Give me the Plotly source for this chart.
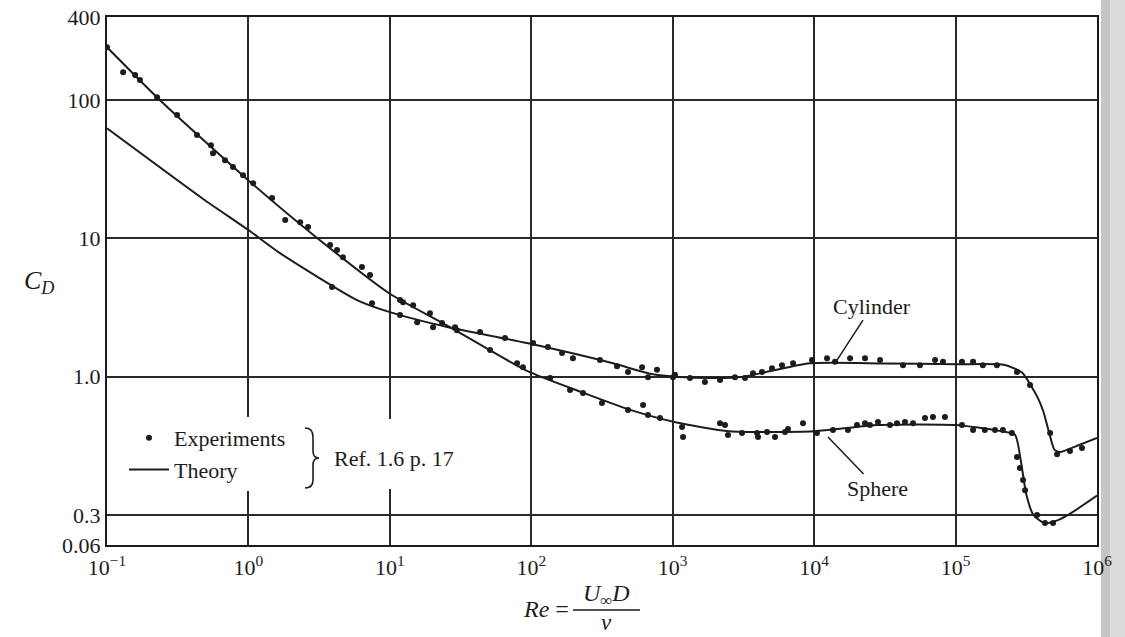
import plotly.graph_objects as go

# ---------------- data ----------------
sphere_exp_re = [0.1, 0.13, 0.158, 0.171, 0.226, 0.313, 0.433, 0.543, 0.562, 0.683, 0.778, 0.916, 1.08, 1.47,
                 1.82, 2.32, 2.64, 3.78, 4.23, 4.66, 6.35, 7.24, 11.8, 12.4, 14.6, 19.2, 23.4, 28.9, 51.1, 79.3,
                 87.3, 136, 188, 232, 316, 483, 617, 669, 813, 1164, 1183, 2160, 2343, 2460, 3090, 3947, 4010,
                 4645, 5286, 6220, 6530, 8340, 10470, 13590, 17340, 20090, 22900, 24830, 28270, 34360, 38540,
                 43880, 50000, 60800, 69200, 84100, 111000, 133000, 161000, 190000, 216000, 250000, 272000,
                 285000, 300000, 310000, 377000, 429000, 489000]
sphere_exp_cd = [242, 159, 152, 140, 105, 78, 55.9, 47.3, 41.4, 36.8, 32.8, 28.7, 25.1, 19.6,
                 13.6, 13.1, 12.1, 8.95, 8.23, 7.32, 6.20, 5.43, 3.58, 3.46, 3.29, 2.88, 2.44, 2.28, 1.56, 1.25,
                 1.17, 0.977, 0.80, 0.76, 0.644, 0.573, 0.623, 0.527, 0.502, 0.433, 0.366, 0.461, 0.447, 0.378,
                 0.391, 0.391, 0.366, 0.397, 0.366, 0.397, 0.418, 0.461, 0.391, 0.411, 0.411, 0.447, 0.461,
                 0.447, 0.470, 0.447, 0.461, 0.470, 0.461, 0.502, 0.511, 0.511, 0.447, 0.411, 0.411, 0.411,
                 0.411, 0.391, 0.262, 0.218, 0.179, 0.151, 0.0998, 0.0873, 0.0873]

cyl_exp_re = [3.90, 7.48, 11.8, 15.6, 20.2, 29.8, 43.4, 65.2, 103, 131, 165, 197, 306, 404, 483, 607, 669,
              774, 1005, 1038, 1325, 1690, 2160, 2755, 3243, 3696, 4278, 5033, 5927, 7096, 9660, 12330, 14050,
              17950, 22900, 29240, 42500, 56000, 71600, 81500, 111000, 133000, 156000, 196000, 272000, 336000,
              466000, 522000, 644000, 783000]
cyl_exp_cd = [4.45, 3.40, 2.79, 2.48, 2.28, 2.17, 2.10, 1.90, 1.75, 1.64, 1.48, 1.36, 1.32, 1.19, 1.08, 1.17,
              0.99, 1.12, 0.99, 1.03, 0.977, 0.914, 0.944, 0.99, 0.977, 1.06, 1.08, 1.15, 1.21, 1.25, 1.32,
              1.36, 1.28, 1.36, 1.36, 1.32, 1.21, 1.21, 1.32, 1.28, 1.28, 1.28, 1.21, 1.21, 1.08, 0.869, 0.391,
              0.275, 0.29, 0.305]

sphere_th_re = [0.1, 0.237, 1.0, 3.09, 10, 25.1, 93.3, 224, 501, 1047, 2512, 10000, 28180, 100000, 199500,
                263000, 288400, 316200, 354800, 426600, 524800, 645700, 1000000]
sphere_th_cd = [241.5, 100, 26.3, 10.0, 3.98, 2.36, 1.10, 0.776, 0.575, 0.468, 0.403, 0.403, 0.447, 0.447,
                0.407, 0.380, 0.251, 0.141, 0.100, 0.0871, 0.0912, 0.102, 0.138]

cyl_th_re = [0.1, 0.493, 1.0, 1.67, 5.86, 10.0, 25.4, 93.3, 378, 692, 1122, 1995, 3162, 9333, 31620, 100000,
             223900, 295100, 338800, 380200, 416900, 457100, 501200, 549500, 631000, 1000000]
cyl_th_cd = [62.7, 18.9, 11.5, 7.83, 3.58, 2.93, 2.29, 1.75, 1.25, 1.05, 0.993, 0.977, 1.0, 1.25, 1.245, 1.23,
             1.216, 1.07, 0.871, 0.708, 0.562, 0.398, 0.295, 0.285, 0.299, 0.360]

x_tickvals = [0.1, 1, 10, 100, 1000, 1e4, 1e5, 1e6]
x_ticktext = ["10<sup>−1</sup>", "10<sup>0</sup>", "10<sup>1</sup>", "10<sup>2</sup>", "10<sup>3</sup>",
              "10<sup>4</sup>", "10<sup>5</sup>", "10<sup>6</sup>"]
y_tickvals = [0.0605, 0.1, 1, 10, 100, 400]
y_ticktext = ["0.06", "0.3", "1.0", "10", "100", "400"]

INK = "#1c1c1c"
SERIF = "Liberation Serif, Times New Roman, serif"

# page geometry (pixels) used only for placing decorations
W, H = 1125, 637
L, R, T, B = 107, 28, 17, 92


def px(xp, yp):
    """pixel position -> paper coordinates"""
    return (xp - L) / (W - L - R), (H - B - yp) / (H - T - B)


def path_from_px(cmds):
    out = []
    for c in cmds:
        if isinstance(c, str):
            out.append(c)
        else:
            a, b = px(*c)
            out.append(f"{a:.5f},{b:.5f}")
    return " ".join(out)


fig = go.Figure()

fig.add_trace(go.Scatter(x=sphere_th_re, y=sphere_th_cd, mode="lines", name="Theory",
                         line=dict(color=INK, width=2, shape="spline", smoothing=0.6),
                         legendgroup="b", legendrank=2, showlegend=True))
fig.add_trace(go.Scatter(x=cyl_th_re, y=cyl_th_cd, mode="lines", name="Theory",
                         line=dict(color=INK, width=2, shape="spline", smoothing=0.6),
                         legendgroup="b", showlegend=False))
fig.add_trace(go.Scatter(x=sphere_exp_re, y=sphere_exp_cd, mode="markers", name="Experiments",
                         marker=dict(color=INK, size=6), legendgroup="a", legendrank=1, showlegend=True))
fig.add_trace(go.Scatter(x=cyl_exp_re, y=cyl_exp_cd, mode="markers", name="Experiments",
                         marker=dict(color=INK, size=6), legendgroup="a", showlegend=False))

fig.update_xaxes(type="log", range=[-1, 6], tickvals=x_tickvals, ticktext=x_ticktext,
                 showgrid=True, gridcolor="#2a2a2a", gridwidth=1.5, automargin=False,
                 showline=True, mirror=True, linecolor=INK, linewidth=2, ticks="",
                 zeroline=False, ticklabelstandoff=2,
                 tickfont=dict(family=SERIF, size=22, color=INK))
fig.update_yaxes(type="log", range=[-1.218, 2.602], tickvals=y_tickvals, ticktext=y_ticktext,
                 showgrid=True, gridcolor="#2a2a2a", gridwidth=1.5, automargin=False,
                 showline=True, mirror=True, linecolor=INK, linewidth=2, ticks="",
                 zeroline=False, tickfont=dict(family=SERIF, size=22, color=INK))


def pa(text, x, y, size=22):
    xp_, yp_ = px(x, y)
    return dict(text=text, xref="paper", yref="paper", x=xp_, y=yp_, xanchor="center",
                yanchor="middle", showarrow=False, font=dict(family=SERIF, size=size, color=INK))


annotations = [
    pa("<i>C<sub>D</sub></i>", 39, 282, 26),
    dict(text="Cylinder", xref="x", yref="y", x=4.148, y=0.098, ax=37, ay=-57,
         showarrow=True, arrowhead=0, arrowwidth=1.5, arrowcolor=INK,
         font=dict(family=SERIF, size=22, color=INK)),
    dict(text="Sphere", xref="x", yref="y", x=4.098, y=-0.437, ax=49, ay=51,
         showarrow=True, arrowhead=0, arrowwidth=1.5, arrowcolor=INK,
         font=dict(family=SERIF, size=22, color=INK)),
    pa("Ref. 1.6 p. 17", 394, 458),
    pa("<i>Re</i> =", 546, 609, 24),
    pa("<i>U</i><sub>∞</sub><i>D</i>", 606, 595, 24),
    pa("<i>ν</i>", 606, 622, 23),
]

brace = path_from_px([
    "M", (305, 428), "C", (311, 428), (313, 431), (313, 437), "L", (313, 451),
    "C", (313, 455), (315, 458), (319, 458), "C", (315, 458), (313, 461), (313, 465),
    "L", (313, 480), "C", (313, 485), (311, 488), (305, 488)])

f0 = px(573, 610)
f1 = px(640, 610)
g0 = px(382, 419)
g1 = px(394, 489)
s0 = px(1101, 660)
s1 = px(1110, -10)
s2 = px(1130, -10)

shapes = [
    dict(type="path", path=brace, xref="paper", yref="paper", line=dict(color=INK, width=1.6)),
    dict(type="line", xref="paper", yref="paper", x0=f0[0], x1=f1[0], y0=f0[1], y1=f1[1],
         line=dict(color=INK, width=1.5)),
    dict(type="rect", xref="paper", yref="paper", x0=g0[0], x1=g1[0], y0=g0[1], y1=g1[1],
         fillcolor="white", line=dict(width=0), layer="above"),
    dict(type="rect", xref="paper", yref="paper", x0=s0[0], x1=s1[0], y0=s0[1], y1=s1[1],
         fillcolor="#c6c6c6", line=dict(width=0), layer="below"),
    dict(type="rect", xref="paper", yref="paper", x0=s1[0], x1=s2[0], y0=s0[1], y1=s1[1],
         fillcolor="#dcdcdc", line=dict(width=0), layer="below"),
]

lg = px(124, 417)
fig.update_layout(
    width=W, height=H, autosize=False,
    margin=dict(l=L, r=R, t=T, b=B, autoexpand=False),
    paper_bgcolor="white", plot_bgcolor="white",
    font=dict(family=SERIF, color=INK),
    showlegend=True,
    legend=dict(x=lg[0], y=lg[1], xanchor="left", yanchor="top", bgcolor="white",
                borderwidth=0, itemwidth=40, tracegroupgap=0, traceorder="grouped",
                font=dict(family=SERIF, size=22, color=INK)),
    annotations=annotations,
    shapes=shapes,
)

fig.write_html("out.html")
